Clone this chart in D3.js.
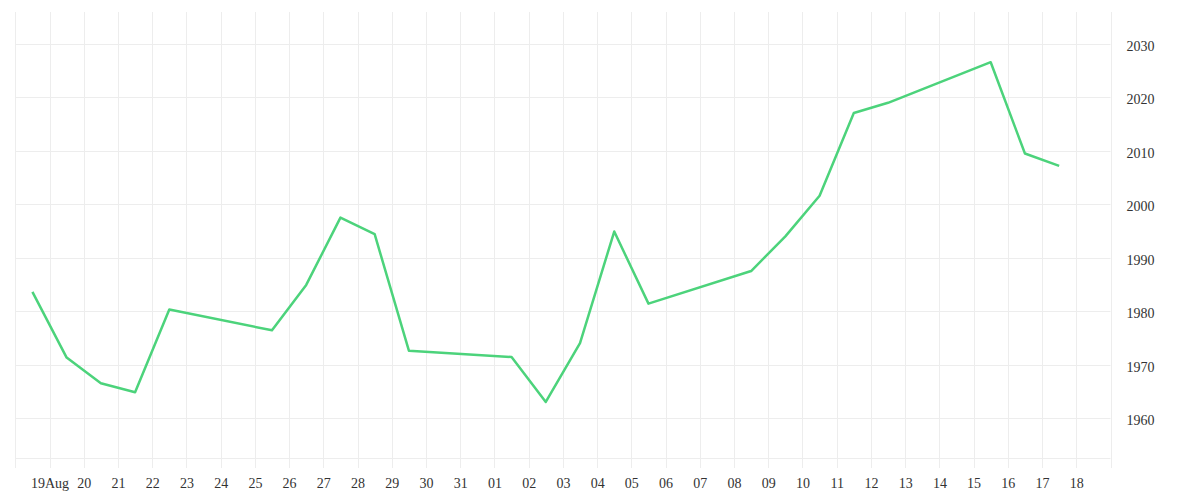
<!DOCTYPE html>
<html>
<head>
<meta charset="utf-8">
<script src="https://cdn.jsdelivr.net/npm/d3@7"></script>
<style>
  html, body { margin: 0; padding: 0; background: #fff; }
  svg { display: block; }
  text { font-family: "Liberation Serif", "DejaVu Serif", serif; font-size: 14px; fill: #333; }
</style>
</head>
<body>
<svg id="chart" width="1200" height="500"></svg>
<script>
const dates = [
  "2024-08-19","2024-08-20","2024-08-21","2024-08-22","2024-08-23",
  "2024-08-26","2024-08-27","2024-08-28","2024-08-29","2024-08-30",
  "2024-09-02","2024-09-03","2024-09-04","2024-09-05","2024-09-06",
  "2024-09-09","2024-09-10","2024-09-11","2024-09-12","2024-09-13",
  "2024-09-16","2024-09-17","2024-09-18"
];
const values = [
  1983.6, 1971.3, 1966.5, 1964.8, 1980.3,
  1976.4, 1984.9, 1997.5, 1994.4, 1972.6,
  1971.4, 1963.0, 1974.0, 1994.9, 1981.4,
  1987.5, 1994.0, 2001.6, 2017.1, 2019.0,
  2026.6, 2009.5, 2007.2
];
const yTicks = [1960, 1970, 1980, 1990, 2000, 2010, 2020, 2030];
const xTickLabels = ["19Aug","20","21","22","23","24","25","26","27","28","29","30","31",
  "01","02","03","04","05","06","07","08","09","10","11","12","13","14","15","16","17","18"];

(function () {
  const xTickDates = d3.timeDay.range(new Date(2024, 7, 19), new Date(2024, 8, 19));
  const parse = d3.timeParse("%Y-%m-%d");
  const data = dates.map((d, i) => ({ date: parse(d), value: values[i] }));

  const svg = d3.select("#chart");
  const mLeft = 15.3, mRight = 1110.5, mTop = 12, mBottom = 458;

  const x = d3.scaleTime()
    .domain([new Date(2024, 7, 18), new Date(2024, 8, 19)])
    .range([mLeft, mRight]);
  const y = d3.scaleLinear()
    .domain([1952.5, 2036])
    .range([mBottom, mTop]);

  const gridColor = "#ededed";

  // vertical grid lines (one per day, Aug 18 .. Sep 19)
  const gridDays = d3.timeDay.range(new Date(2024, 7, 18), new Date(2024, 8, 20));
  svg.append("g").selectAll("line").data(gridDays).join("line")
    .attr("x1", d => Math.round(x(d)) + 0.5).attr("x2", d => Math.round(x(d)) + 0.5)
    .attr("y1", mTop).attr("y2", 468)
    .attr("stroke", gridColor).attr("stroke-width", 1);

  // horizontal grid lines
  svg.append("g").selectAll("line").data(yTicks).join("line")
    .attr("x1", mLeft).attr("x2", mRight)
    .attr("y1", d => Math.round(y(d)) + 0.5).attr("y2", d => Math.round(y(d)) + 0.5)
    .attr("stroke", gridColor).attr("stroke-width", 1);

  // bottom line
  svg.append("line")
    .attr("x1", mLeft).attr("x2", mRight)
    .attr("y1", mBottom + 0.5).attr("y2", mBottom + 0.5)
    .attr("stroke", gridColor).attr("stroke-width", 1);

  // y axis labels (right side)
  const yAxis = d3.axisRight(y).tickValues(yTicks).tickSize(0).tickPadding(16).tickFormat(d3.format("d"));
  const gy = svg.append("g").attr("transform", `translate(${mRight},2)`).call(yAxis);
  gy.select(".domain").remove();
  gy.selectAll("text").attr("fill", "#333").style("font-size", "14px")
    .style("font-family", '"Liberation Serif", "DejaVu Serif", serif');

  // x axis labels
  const xAxis = d3.axisBottom(x).tickValues(xTickDates).tickSize(0).tickPadding(20)
    .tickFormat((d, i) => xTickLabels[i]);
  const gx = svg.append("g").attr("transform", `translate(0,${mBottom})`).call(xAxis);
  gx.select(".domain").remove();
  gx.selectAll("text").attr("fill", "#333").style("font-size", "14px")
    .style("font-family", '"Liberation Serif", "DejaVu Serif", serif');

  // the line: each value is drawn half a day before its date's grid line
  const line = d3.line()
    .x(d => x(d3.timeHour.offset(d.date, -12)))
    .y(d => y(d.value));
  svg.append("path").datum(data)
    .attr("d", line)
    .attr("fill", "none")
    .attr("stroke", "#4cd37b")
    .attr("stroke-width", 2.5)
    .attr("stroke-linejoin", "round");
})();
</script>
</body>
</html>
